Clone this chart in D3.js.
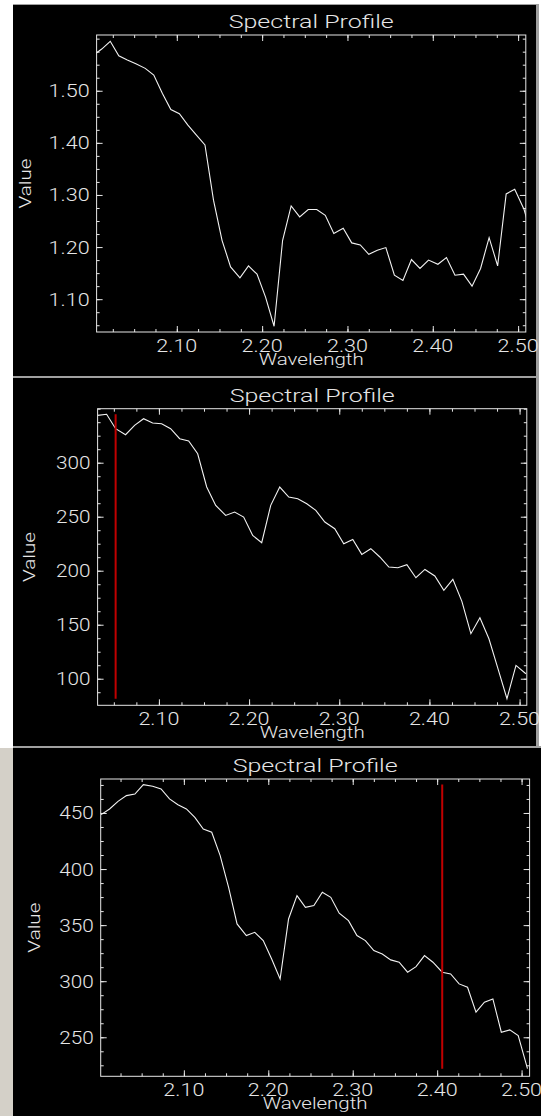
<!DOCTYPE html>
<html><head><meta charset="utf-8">
<script src="https://cdn.jsdelivr.net/npm/d3@7"></script>
<style>html,body{margin:0;padding:0;background:#fff;}svg{display:block}</style>
</head><body><svg id="c" width="541" height="1116"></svg>
<script>
// ---- data ----
const wavelengths = [2.002, 2.012, 2.022, 2.032, 2.042, 2.052, 2.063, 2.073, 2.083, 2.093,
  2.103, 2.113, 2.123, 2.133, 2.143, 2.153, 2.163, 2.174, 2.184, 2.194,
  2.204, 2.214, 2.224, 2.234, 2.244, 2.254, 2.264, 2.274, 2.284, 2.295,
  2.305, 2.315, 2.325, 2.335, 2.345, 2.355, 2.365, 2.375, 2.385, 2.395,
  2.406, 2.416, 2.426, 2.436, 2.446, 2.456, 2.466, 2.476, 2.486, 2.496,
  2.507, 2.517];
const values1 = [1.568, 1.580, 1.595, 1.567, 1.559, 1.552, 1.543, 1.530, 1.495, 1.464,
  1.456, 1.434, 1.415, 1.396, 1.290, 1.213, 1.162, 1.141, 1.164, 1.148,
  1.104, 1.048, 1.213, 1.279, 1.258, 1.272, 1.272, 1.261, 1.226, 1.236,
  1.208, 1.204, 1.186, 1.194, 1.199, 1.146, 1.136, 1.176, 1.159, 1.175,
  1.167, 1.180, 1.146, 1.148, 1.125, 1.159, 1.218, 1.164, 1.302, 1.311,
  1.272, 1.215];
const wavelengths2 = wavelengths.slice(3, 51);
const values2 = [343.8, 344.8, 331.5, 325.9, 334.6, 340.7, 336.7, 336.1, 331.5, 322.2,
  320.1, 308.3, 277.5, 260.5, 251.2, 254.3, 249.7, 232.7, 225.9, 260.5,
  277.5, 268.2, 266.7, 262.0, 255.9, 245.1, 238.9, 225.0, 229.0, 215.1,
  220.4, 212.7, 203.4, 202.8, 205.6, 193.5, 201.2, 195.1, 181.8, 192.0,
  171.6, 141.7, 156.5, 137.0, 109.3, 81.5, 112.3, 104.6];
const wavelengths3 = wavelengths.slice(0, 51);
const values3 = [448.5, 453.6, 460.4, 465.5, 466.9, 475.3, 473.8, 471.4, 462.5, 457.4,
  453.6, 446.1, 435.7, 432.8, 412.0, 383.7, 351.1, 340.7, 343.6, 336.2,
  319.8, 302.0, 355.5, 376.3, 365.9, 367.4, 379.3, 374.8, 360.6, 354.0,
  340.7, 336.2, 327.3, 324.3, 319.0, 316.9, 308.0, 313.0, 322.8, 316.9,
  308.0, 306.5, 297.6, 294.6, 272.4, 281.3, 284.2, 254.5, 256.6, 251.5,
  222.0];
const xTicks = [2.10, 2.20, 2.30, 2.40, 2.50];
const xTickLabels = ["2.10", "2.20", "2.30", "2.40", "2.50"];
const yTicks1 = [1.10, 1.20, 1.30, 1.40, 1.50];
const yTickLabels1 = ["1.10", "1.20", "1.30", "1.40", "1.50"];
const yTicks2 = [100, 150, 200, 250, 300];
const yTickLabels2 = ["100", "150", "200", "250", "300"];
const yTicks3 = [250, 300, 350, 400, 450];
const yTickLabels3 = ["250", "300", "350", "400", "450"];
const xRange1 = [2.006, 2.509], yRange1 = [1.037, 1.607];
const xRange2 = [2.032, 2.508], yRange2 = [75.4, 350];
const xRange3 = [2.0015, 2.5095], yRange3 = [215.2, 480.3];
const marker2 = 2.052, marker3 = 2.406;
const titleText = "Spectral Profile", xTitle = "Wavelength", yTitle = "Value";

// ---- layout ----
const svg = d3.select("#c");
const FONT = "Roboto, 'DejaVu Sans', sans-serif";
const FG = "#e6e6e6";

// page chrome
svg.append("rect").attr("x",0).attr("y",0).attr("width",541).attr("height",1116).attr("fill","#fff");
svg.append("rect").attr("x",0).attr("y",748).attr("width",13).attr("height",368).attr("fill","#d4d0c8");
svg.append("rect").attr("x",13).attr("y",4).attr("width",525).attr("height",1).attr("fill","#a0a0a0");
svg.append("rect").attr("x",13).attr("y",5).attr("width",523).attr("height",371).attr("fill","#000");
svg.append("rect").attr("x",13).attr("y",376).attr("width",525).attr("height",2).attr("fill","#a0a0a0");
svg.append("rect").attr("x",13).attr("y",378).attr("width",523).attr("height",368).attr("fill","#000");
svg.append("rect").attr("x",536).attr("y",4).attr("width",3).attr("height",744).attr("fill","#a0a0a0");
svg.append("rect").attr("x",13).attr("y",746).attr("width",528).attr("height",2).attr("fill","#a0a0a0");
svg.append("rect").attr("x",13).attr("y",748).attr("width",528).attr("height",368).attr("fill","#000");

const panels = [
  {id:1, wl:wavelengths, v:values1, xr:xRange1, yr:yRange1, yt:yTicks1, ytl:yTickLabels1,
   l:96.6, r:525.8, t:35, b:332, valueX:25, marker:null, yMinor:0.025, ylabW:41},
  {id:2, wl:wavelengths2, v:values2, xr:xRange2, yr:yRange2, yt:yTicks2, ytl:yTickLabels2,
   l:97.6, r:526.8, t:408.7, b:705.3, valueX:29, marker:marker2, yMinor:12.5, ylabW:34.5},
  {id:3, wl:wavelengths3, v:values3, xr:xRange3, yr:yRange3, yt:yTicks3, ytl:yTickLabels3,
   l:100.7, r:529.6, t:779, b:1076.3, valueX:34, marker:marker3, yMinor:12.5, ylabW:34.5}
];

panels.forEach(p => {
  const x = d3.scaleLinear().domain(p.xr).range([p.l, p.r]);
  const y = d3.scaleLinear().domain(p.yr).range([p.b, p.t]);
  const g = svg.append("g");
  const clipId = "clip" + p.id;
  svg.append("clipPath").attr("id", clipId).append("rect")
    .attr("x", p.l).attr("y", p.t).attr("width", p.r - p.l).attr("height", p.b - p.t);

  const xMinor = d3.range(2.0, 2.55, 0.025).filter(v => v >= p.xr[0] && v <= p.xr[1]);
  const yMinor = d3.range(p.yt[0] - 4*p.yMinor, p.yt[p.yt.length-1] + 8*p.yMinor, p.yMinor)
      .filter(v => v >= p.yr[0] && v <= p.yr[1]);
  const MAJ = 6, MIN = 3;
  function axis(gen, tr, vals, size) {
    const a = g.append("g").attr("transform", tr)
      .call(gen.tickValues(vals).tickSizeInner(-size).tickSizeOuter(0).tickFormat(""));
    a.select(".domain").remove();
    a.selectAll("line").attr("stroke", FG).attr("stroke-width", 1);
  }
  axis(d3.axisBottom(x), `translate(0,${p.b})`, xMinor, MIN);
  axis(d3.axisBottom(x), `translate(0,${p.b})`, xTicks, MAJ);
  axis(d3.axisTop(x), `translate(0,${p.t})`, xMinor, MIN);
  axis(d3.axisTop(x), `translate(0,${p.t})`, xTicks, MAJ);
  axis(d3.axisLeft(y), `translate(${p.l},0)`, yMinor, MIN);
  axis(d3.axisLeft(y), `translate(${p.l},0)`, p.yt, MAJ);
  axis(d3.axisRight(y), `translate(${p.r},0)`, yMinor, MIN);
  axis(d3.axisRight(y), `translate(${p.r},0)`, p.yt, MAJ);

  g.append("rect").attr("x", p.l).attr("y", p.t).attr("width", p.r - p.l).attr("height", p.b - p.t)
    .attr("fill", "none").attr("stroke", FG).attr("stroke-width", 1);

  // x tick labels
  g.selectAll(null).data(xTicks).enter().append("text")
    .attr("x", d => x(d)).attr("y", p.b + 19.5)
    .attr("text-anchor", "middle").attr("fill", FG)
    .attr("font-family", FONT).attr("font-weight", 300).attr("font-size", 18)
    .attr("textLength", 41).attr("lengthAdjust", "spacingAndGlyphs")
    .text((d, i) => xTickLabels[i]);
  // y tick labels
  g.selectAll(null).data(p.yt).enter().append("text")
    .attr("x", p.l - 7).attr("y", d => y(d) + 6.5)
    .attr("text-anchor", "end").attr("fill", FG)
    .attr("font-family", FONT).attr("font-weight", 300).attr("font-size", 18)
    .attr("textLength", p.ylabW).attr("lengthAdjust", "spacingAndGlyphs")
    .text((d, i) => p.ytl[i]);
  // titles
  g.append("text").attr("x", (p.l + p.r) / 2).attr("y", p.t - 7)
    .attr("text-anchor", "middle").attr("fill", FG)
    .attr("font-family", FONT).attr("font-weight", 300).attr("font-size", 18)
    .attr("textLength", 165).attr("lengthAdjust", "spacingAndGlyphs").text(titleText);
  g.append("text").attr("x", (p.l + p.r) / 2).attr("y", p.b + 32.5)
    .attr("text-anchor", "middle").attr("fill", FG)
    .attr("font-family", FONT).attr("font-weight", 300).attr("font-size", 17)
    .attr("textLength", 105).attr("lengthAdjust", "spacingAndGlyphs").text(xTitle);
  g.append("text")
    .attr("transform", `translate(${p.valueX},${(p.t + p.b) / 2}) rotate(-90)`)
    .attr("text-anchor", "middle").attr("dy", "0.35em").attr("fill", FG)
    .attr("font-family", FONT).attr("font-weight", 300).attr("font-size", 17)
    .attr("textLength", 50).attr("lengthAdjust", "spacingAndGlyphs").text(yTitle);

  // data line
  const pts = p.wl.map((w, i) => [w, p.v[i]]);
  g.append("path").datum(pts)
    .attr("clip-path", `url(#${clipId})`)
    .attr("d", d3.line().x(d => x(d[0])).y(d => y(d[1])))
    .attr("fill", "none").attr("stroke", "#f2f2f2").attr("stroke-width", 1.1);

  if (p.marker !== null) {
    const ext = d3.extent(p.v);
    g.append("line").attr("x1", x(p.marker)).attr("x2", x(p.marker))
      .attr("y1", y(ext[1])).attr("y2", y(ext[0]))
      .attr("stroke", "#c00000").attr("stroke-width", 2);
  }
});
</script></body></html>
